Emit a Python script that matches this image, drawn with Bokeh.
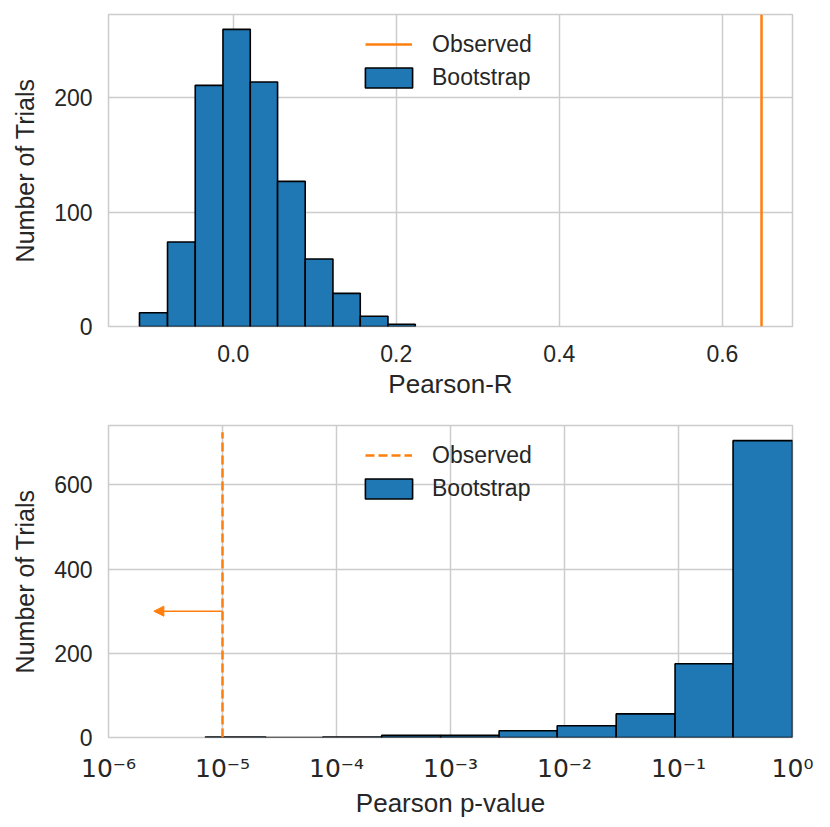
from bokeh.plotting import figure
from bokeh.layouts import column
from bokeh.models import (Range1d, FixedTicker, CustomJSTickFormatter, Legend, LegendItem,
                          Arrow, NormalHead)
from bokeh.embed import file_html
from bokeh.resources import INLINE

# ---------------- data ----------------
r_edges = [-0.115, -0.0806, -0.0466, -0.0126, 0.0209, 0.0544, 0.0883, 0.1223, 0.1558, 0.1898, 0.2233]
r_counts = [12, 74, 211, 260, 214, 127, 59, 29, 9, 2]
observed_r = 0.648
r_ticks = [0.0, 0.2, 0.4, 0.6]
r_tick_labels = ["0.0", "0.2", "0.4", "0.6"]
count_ticks_top = [0, 100, 200]

p_edges = [7.08e-6, 2.39e-5, 7.59e-5, 2.49e-4, 8.20e-4, 2.67e-3, 8.63e-3, 2.84e-2, 9.33e-2, 0.301, 1.0]
p_counts = [1, 0, 1, 5, 5, 16, 28, 56, 175, 705]
observed_p = 1e-5
observed_p_top = 725
arrow_end_p = 2.5e-6
arrow_y = 300
p_ticks = [1e-6, 1e-5, 1e-4, 1e-3, 1e-2, 1e-1, 1.0]
p_tick_labels = ["10\u207b\u2076", "10\u207b\u2075", "10\u207b\u2074", "10\u207b\u00b3",
                 "10\u207b\u00b2", "10\u207b\u00b9", "10\u2070"]
count_ticks_bottom = [0, 200, 400, 600]

# ---------------- style ----------------
BLUE = "#1f77b4"
ORANGE = "#ff7f0e"
GRID = "#cccccc"
TEXT = "#262626"
FONT = "Liberation Sans"


def style(p):
    p.outline_line_color = GRID
    p.outline_line_width = 1.5
    p.background_fill_color = "white"
    p.border_fill_color = "white"
    for g in (p.xgrid, p.ygrid):
        g.grid_line_color = GRID
        g.grid_line_width = 1.5
    for ax in (p.xaxis, p.yaxis):
        ax.axis_line_color = None
        ax.major_tick_line_color = None
        ax.minor_tick_line_color = None
        ax.major_label_text_font = FONT
        ax.major_label_text_font_size = "23px"
        ax.major_label_text_color = TEXT
        ax.axis_label_text_font = FONT
        ax.axis_label_text_font_style = "normal"
        ax.axis_label_text_color = TEXT
    p.xaxis.axis_label_text_font_size = "26px"
    p.yaxis.axis_label_text_font_size = "25px"
    p.xaxis.major_label_standoff = 12
    p.xaxis.axis_label_standoff = 4
    p.yaxis.major_label_standoff = 10
    p.yaxis.axis_label_standoff = 12


def make_legend(item, x, y, gw, gh, standoff):
    lg = Legend(items=[item])
    lg.location = (x, y)
    lg.border_line_color = None
    lg.background_fill_alpha = 0
    lg.padding = 0
    lg.margin = 0
    lg.spacing = 0
    lg.glyph_width = gw
    lg.glyph_height = gh
    lg.label_height = 28
    lg.label_standoff = standoff
    lg.label_text_font = FONT
    lg.label_text_font_size = "23px"
    lg.label_text_color = TEXT
    return lg


def add_legends(p, line_r, bar_r):
    # line glyph: 47px wide; bar glyph drawn at 80% of its box -> 59x25 gives a 47x20 patch
    p.add_layout(make_legend(LegendItem(label="Observed", renderers=[line_r]), 257, 268, 47, 20, 20), "center")
    p.add_layout(make_legend(LegendItem(label="Bootstrap", renderers=[bar_r]), 251, 235, 59, 25, 14), "center")


# ---------------- top: Pearson-R ----------------
top_max = 273
p1 = figure(frame_width=684, frame_height=312, width=822, height=400,
            x_range=Range1d(-0.153, 0.686), y_range=Range1d(0, top_max),
            output_backend="svg", toolbar_location=None,
            min_border_left=108, min_border_top=14, min_border_right=30, min_border_bottom=10)
style(p1)
q1 = p1.quad(left=r_edges[:-1], right=r_edges[1:], bottom=0, top=r_counts,
             fill_color=BLUE, line_color="black", line_width=1.6)
s1 = p1.segment(x0=[observed_r], y0=[0], x1=[observed_r], y1=[top_max],
                line_color=ORANGE, line_width=2.5)
p1.xaxis.ticker = FixedTicker(ticks=r_ticks)
p1.xgrid.ticker = FixedTicker(ticks=r_ticks)
p1.xaxis.major_label_overrides = {t: l for t, l in zip(r_ticks, r_tick_labels)}
p1.yaxis.ticker = FixedTicker(ticks=count_ticks_top)
p1.ygrid.ticker = FixedTicker(ticks=count_ticks_top)
p1.xaxis.axis_label = "Pearson-R"
p1.yaxis.axis_label = "Number of Trials"
add_legends(p1, s1, q1)

# ---------------- bottom: Pearson p-value ----------------
bot_max = 741
p2 = figure(frame_width=684, frame_height=312, width=822, height=420,
            x_axis_type="log",
            x_range=Range1d(1e-6, 1.0), y_range=Range1d(0, bot_max),
            output_backend="svg", toolbar_location=None,
            min_border_left=108, min_border_top=24, min_border_right=30, min_border_bottom=10)
style(p2)
q2 = p2.quad(left=p_edges[:-1], right=p_edges[1:], bottom=0, top=p_counts,
             fill_color=BLUE, line_color="black", line_width=1.6)
s2 = p2.segment(x0=[observed_p], y0=[0], x1=[observed_p], y1=[observed_p_top],
                line_color=ORANGE, line_width=2.5, line_dash="9 4")
p2.add_layout(Arrow(end=NormalHead(size=10, fill_color=ORANGE, line_color=ORANGE),
                    x_start=observed_p, y_start=arrow_y, x_end=arrow_end_p, y_end=arrow_y,
                    line_color=ORANGE, line_width=1.5))
p2.xaxis.ticker = FixedTicker(ticks=p_ticks)
p2.xgrid.ticker = FixedTicker(ticks=p_ticks)
p2.xaxis.formatter = CustomJSTickFormatter(args=dict(tick_vals=p_ticks, tick_text=p_tick_labels), code="""
    for (let i = 0; i < tick_vals.length; i++) {
        if (Math.abs(Math.log10(tick) - Math.log10(tick_vals[i])) < 1e-6) { return tick_text[i]; }
    }
    return "";
""")
p2.xaxis.major_label_text_font = "DejaVu Sans"
p2.xaxis.major_label_text_font_size = "25px"
p2.xaxis.major_label_standoff = 10
p2.xaxis.axis_label_standoff = 2
p2.yaxis.ticker = FixedTicker(ticks=count_ticks_bottom)
p2.ygrid.ticker = FixedTicker(ticks=count_ticks_bottom)
p2.xaxis.axis_label = "Pearson p-value"
p2.yaxis.axis_label = "Number of Trials"
add_legends(p2, s2, q2)

layout = column(p1, p2, spacing=0)
open("out.html", "w").write(file_html(layout, INLINE))
